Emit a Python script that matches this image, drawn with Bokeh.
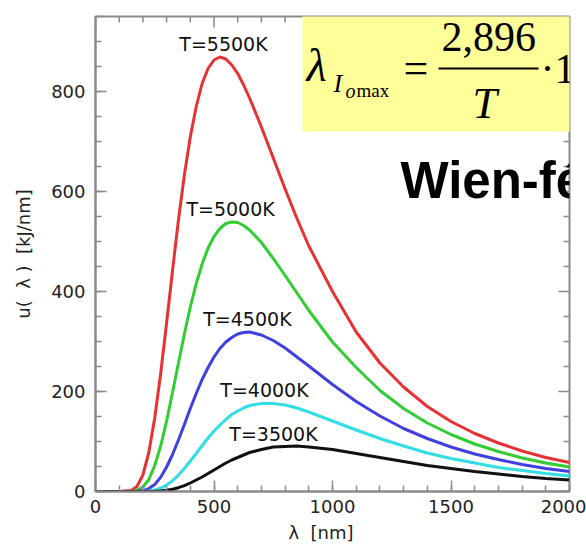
from bokeh.plotting import figure
from bokeh.models import Range1d, FixedTicker, Label, BoxAnnotation
from bokeh.embed import file_html
from bokeh.resources import INLINE

# ---------------- data ----------------
wavelength = [0, 100, 150, 175, 200, 225, 250, 275, 300, 325, 350, 375, 400, 425, 450, 475,
              500, 525, 550, 575, 600, 625, 650, 700, 750, 800, 850, 900,
              1000, 1100, 1200, 1300, 1400, 1500, 1600, 1700, 1800, 1900, 2000]
u_5500 = [0, 0, 1.8, 9.9, 33, 78, 147, 236, 337, 442, 543, 633, 709, 770, 816, 846,
          863, 869, 865, 853, 836, 813, 787, 729, 667, 605, 546, 491,
          400, 319, 257, 209, 170, 140, 116, 97, 81, 68, 58]
u_5000 = [0, 0, 0.3, 2.2, 8.9, 24, 52, 91, 141, 198, 257, 315, 369, 416, 455, 487,
          510, 526, 536, 539, 538, 532, 523, 498, 466, 432, 397, 362,
          299, 248, 202, 166, 137, 114, 95, 80, 67, 57, 49]
u_4500 = [0, 0, 0, 0.3, 1.8, 5.9, 14, 28.5, 49, 74, 103, 134, 166, 196, 224, 248,
          269, 286, 299, 308, 315, 318, 319, 313, 302, 287, 269, 251,
          214, 180, 151, 126, 106, 89, 75, 64, 54, 46, 40]
u_4000 = [0, 0, 0, 0, 0.2, 1.0, 2.9, 6.7, 13, 21.6, 33, 46, 61, 76, 92, 107,
          121, 133, 144, 154, 161, 167, 172, 176, 176, 173, 167, 159,
          141, 123, 106, 91, 77, 66, 57, 48, 42, 36, 31]
u_3500 = [0, 0, 0, 0, 0, 0.1, 0.4, 1.0, 2.3, 4.4, 7.6, 11.7, 17, 23, 29, 36,
          43, 50, 57, 63, 68, 73, 78, 84, 89, 90, 91, 89,
          84, 76, 68, 60, 52, 46, 40, 35, 30, 26, 23]

series = [u_5500, u_5000, u_4500, u_4000, u_3500]
series_colors = ["#e63232", "#33cc33", "#4040e0", "#33dde6", "#111111"]
series_labels = ["T=5500K", "T=5000K", "T=4500K", "T=4000K", "T=3500K"]
label_x = [540, 570, 641, 713, 751]
label_y = [896, 566, 346, 204, 116]

x_ticks = [0, 500, 1000, 1500, 2000]
x_minor = list(range(0, 2001, 100))
y_ticks = [0, 200, 400, 600, 800]
y_minor = list(range(0, 951, 50))
X_MAX, Y_MAX = 2000, 950

# ---------------- figure ----------------
W, H = 586, 548
FL, FR, FT, FB = 95, 569, 16, 491          # frame edges in pixels
p = figure(width=W, height=H, x_range=Range1d(0, X_MAX), y_range=Range1d(0, Y_MAX),
           output_backend="svg", toolbar_location=None,
           min_border_left=FL, min_border_right=W - FR, min_border_top=FT, min_border_bottom=H - FB)
p.background_fill_color = "white"
p.border_fill_color = "white"
p.xgrid.visible = False
p.ygrid.visible = False
GRAY = "#8a8a8a"
p.outline_line_color = GRAY
p.outline_line_width = 2

xt = FixedTicker(ticks=x_ticks, minor_ticks=x_minor)
yt = FixedTicker(ticks=y_ticks, minor_ticks=y_minor)
p.xaxis.ticker = xt
p.yaxis.ticker = yt
for ax in (p.xaxis[0], p.yaxis[0]):
    ax.axis_line_color = GRAY
    ax.axis_line_width = 2
    ax.major_tick_line_color = GRAY
    ax.minor_tick_line_color = GRAY
    ax.major_tick_line_width = 1.5
    ax.minor_tick_line_width = 1.5
    ax.major_tick_in = 11
    ax.major_tick_out = 0
    ax.minor_tick_in = 6
    ax.minor_tick_out = 0
    ax.major_label_text_font = "DejaVu Sans"
    ax.major_label_text_font_size = "18px"
    ax.major_label_text_color = "#222222"
    ax.axis_label_text_font = "DejaVu Sans"
    ax.axis_label_text_font_size = "18px"
    ax.axis_label_text_font_style = "normal"
    ax.axis_label_text_color = "#222222"
NB = "\u00a0"
p.yaxis[0].major_label_standoff = 10
p.xaxis[0].major_label_standoff = 8
p.yaxis[0].axis_label = "u(" + NB * 2 + "λ" + NB + ")" + NB * 2 + "[kJ/nm]"
p.yaxis[0].axis_label_standoff = 14
p.xaxis[0].axis_label = "λ" + NB * 2 + "[nm]" + NB * 4
p.xaxis[0].axis_label_standoff = 6

# ticks on the top and right edges of the frame (pointing inwards)
px_x = X_MAX / (FR - FL)
px_y = Y_MAX / (FB - FT)
maj_x = list(x_ticks)
min_x = [t for t in x_minor if t not in x_ticks]
maj_y = list(y_ticks)
min_y = [t for t in y_minor if t not in y_ticks]
p.segment(x0=maj_x, x1=maj_x, y0=[Y_MAX] * len(maj_x), y1=[Y_MAX - 11 * px_y] * len(maj_x),
          line_color=GRAY, line_width=1.5)
p.segment(x0=min_x, x1=min_x, y0=[Y_MAX] * len(min_x), y1=[Y_MAX - 6 * px_y] * len(min_x),
          line_color=GRAY, line_width=1.5)
p.segment(x0=[X_MAX] * len(maj_y), x1=[X_MAX - 11 * px_x] * len(maj_y), y0=maj_y, y1=maj_y,
          line_color=GRAY, line_width=1.5)
p.segment(x0=[X_MAX] * len(min_y), x1=[X_MAX - 6 * px_x] * len(min_y), y0=min_y, y1=min_y,
          line_color=GRAY, line_width=1.5)

for ys, c in zip(series, series_colors):
    p.line(wavelength, ys, line_color=c, line_width=3)

# pixel coordinates -> data coordinates
def dx(px):
    return (px - FL) * px_x

def dy(py):
    return (FB - py) * px_y

for t, x, y in zip(series_labels, label_x, label_y):
    p.add_layout(Label(x=x, y=y, text=t, text_font="DejaVu Sans", text_font_size="19px",
                       text_color="#111111", text_align="center", text_baseline="middle"))

# yellow formula box
p.add_layout(BoxAnnotation(left=dx(302), right=dx(620), top=dy(-10), bottom=dy(131),
                           fill_color="#ffff99", fill_alpha=1.0, line_color=None))
SERIF = "Liberation Serif"

def lab(px, py_mid, text, size, style="normal", font=SERIF, color="black"):
    p.add_layout(Label(x=dx(px), y=dy(py_mid), text=text, text_font=font, text_font_size=size,
                       text_font_style=style, text_color=color, text_align="left",
                       text_baseline="middle"))

lab(306, 64, "λ", "47px", "italic")
lab(333, 83, "I", "26px", "italic")
lab(345, 90, "o", "20px", "italic")
lab(356, 90, "max", "19px")
lab(403, 68, "=", "44px")
lab(441, 36, "2,896", "42px")
p.add_layout(BoxAnnotation(left=dx(438), right=dx(538), top=dy(67), bottom=dy(69),
                           fill_color="black", fill_alpha=1.0, line_color=None))
lab(472, 103, "T", "44px", "italic")
lab(540, 68, "·10", "42px")

# Wien heading
lab(400, 180, "Wien-fé", "51px", "bold", font="Liberation Sans")

open("out.html", "w").write(file_html(p, INLINE))
